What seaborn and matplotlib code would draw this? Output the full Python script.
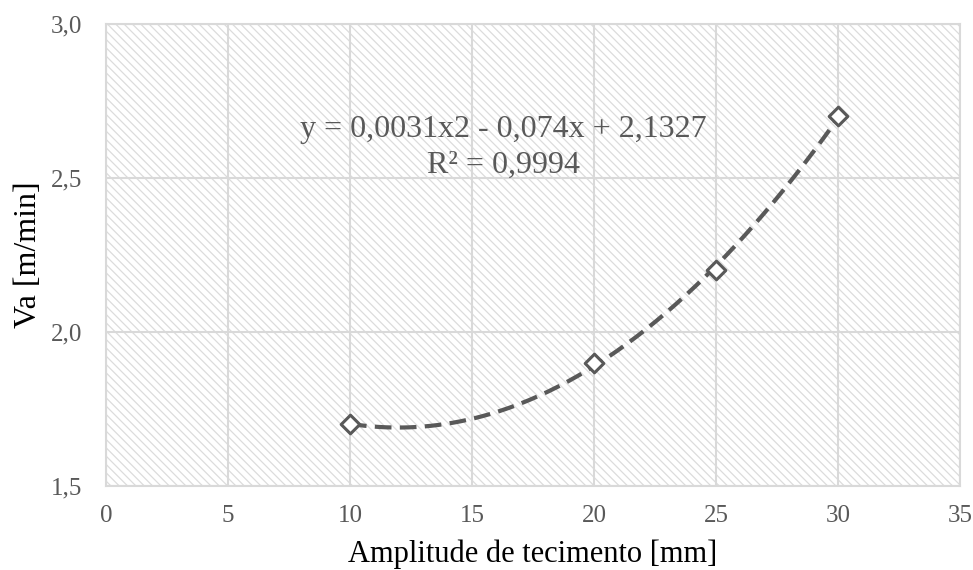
import numpy as np
import matplotlib
matplotlib.use("Agg")
import matplotlib.pyplot as plt
import pandas as pd
import seaborn as sns
from matplotlib.patches import Rectangle
from matplotlib.ticker import FuncFormatter

amplitude = [10, 20, 25, 30]
va = [1.7, 1.9, 2.2, 2.7]
eq_text = "y = 0,0031x2 - 0,074x + 2,1327\nR² = 0,9994"

sns.set_theme(style="white")
plt.rcParams["font.family"] = ["Liberation Serif", "DejaVu Serif"]
plt.rcParams["hatch.linewidth"] = 0.9

df = pd.DataFrame({"x": amplitude, "y": va})

fig = plt.figure(figsize=(9.73, 5.70), dpi=100)
ax = fig.add_axes([106 / 973, 1 - 486 / 570, (960 - 106) / 973, (486 - 24) / 570])

# hatched plot area background
bg = Rectangle((0, 0), 1, 1, transform=ax.transAxes, facecolor="white",
               edgecolor="#dcdcdc", hatch="\\\\\\\\", lw=0, zorder=0)
ax.add_patch(bg)

# polynomial trendline (order 2), like the spreadsheet
coef = np.polyfit(df["x"], df["y"], 2)
xs = np.linspace(min(amplitude), max(amplitude), 200)
trend = pd.DataFrame({"x": xs, "y": np.polyval(coef, xs)})
sns.lineplot(data=trend, x="x", y="y", ax=ax, color="#595959", lw=3,
             linestyle=(0, (4, 2)), zorder=3)
sns.scatterplot(data=df, x="x", y="y", ax=ax, marker="D", s=90,
                facecolor="white", edgecolor="#595959", linewidth=2.2, zorder=4)

ax.set_xlim(0, 35)
ax.set_ylim(1.5, 3.0)
ax.set_xticks(range(0, 36, 5))
ax.set_yticks([1.5, 2.0, 2.5, 3.0])
ax.yaxis.set_major_formatter(FuncFormatter(lambda v, p: f"{v:.1f}".replace(".", ",")))
ax.grid(True, color="#d9d9d9", lw=1.5, zorder=1)
ax.set_axisbelow(True)
for s in ax.spines.values():
    s.set_color("#d9d9d9")
    s.set_linewidth(1.5)
ax.tick_params(axis="both", length=0, labelsize=18, labelcolor="#595959")
ax.tick_params(axis="x", pad=14)
ax.tick_params(axis="y", pad=17)

ax.set_xlabel("Amplitude de tecimento [mm]", fontsize=22, color="black", labelpad=9)
ax.set_ylabel("Va [m/min]", fontsize=23, color="black", labelpad=6)

ax.text(16.3, 2.60, eq_text, ha="center", va="center", fontsize=23,
        color="#595959", linespacing=1.33, zorder=5)

fig.savefig("out.png", dpi=100)
